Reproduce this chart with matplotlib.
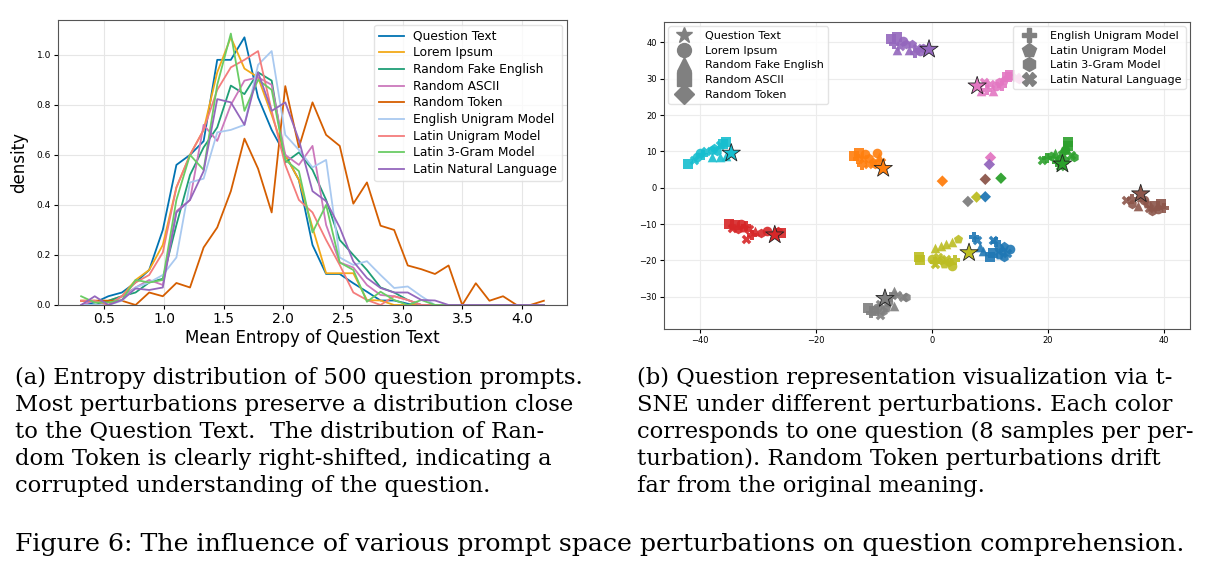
import matplotlib.pyplot as plt
from matplotlib.lines import Line2D

# ---- (a) entropy histograms: shared bin centres ----
bin_centers = [0.306, 0.420, 0.534, 0.648, 0.762, 0.876, 0.990, 1.104, 1.218, 1.332,
               1.446, 1.560, 1.674, 1.788, 1.902, 2.016, 2.130, 2.244, 2.358, 2.472,
               2.586, 2.700, 2.814, 2.928, 3.042, 3.156, 3.270, 3.384, 3.498, 3.612,
               3.726, 3.840, 3.954, 4.068, 4.182]

question_text = [0.0, 0.01, 0.035, 0.05, 0.09, 0.14, 0.30, 0.56, 0.60, 0.655, 0.98, 0.98,
                 1.07, 0.83, 0.70, 0.60, 0.50, 0.24, 0.124, 0.124, 0.087, 0.053, 0.018,
                 0.018, 0.005, 0, 0, 0, 0, 0, 0, 0, 0, 0, 0]
lorem_ipsum = [0.017, 0.017, 0.017, 0.035, 0.10, 0.14, 0.24, 0.47, 0.60, 0.70, 0.93, 1.07,
               0.945, 0.91, 0.76, 0.60, 0.50, 0.31, 0.127, 0.127, 0.127, 0.02, 0.018, 0, 0,
               0, 0, 0, 0, 0, 0, 0, 0, 0, 0]
random_fake_english = [0.0, 0.0, 0.017, 0.035, 0.05, 0.09, 0.105, 0.32, 0.52, 0.63, 0.71,
                       0.877, 0.843, 0.93, 0.897, 0.57, 0.61, 0.54, 0.42, 0.26, 0.20, 0.14,
                       0.07, 0.05, 0.02, 0, 0, 0, 0, 0, 0, 0, 0, 0, 0]
random_ascii = [0.0, 0.017, 0.0, 0.035, 0.07, 0.10, 0.08, 0.375, 0.42, 0.72, 0.656, 0.80,
                0.897, 0.91, 0.88, 0.60, 0.56, 0.636, 0.32, 0.17, 0.15, 0.08, 0.04, 0.035,
                0.02, 0, 0, 0, 0, 0, 0, 0, 0, 0, 0]
random_token = [0.017, 0.017, 0.017, 0.017, 0.0, 0.05, 0.035, 0.088, 0.07, 0.23, 0.31,
                0.455, 0.665, 0.545, 0.37, 0.875, 0.63, 0.81, 0.68, 0.636, 0.405, 0.49,
                0.317, 0.30, 0.158, 0.143, 0.124, 0.158, 0.0, 0.087, 0.017, 0.035, 0.0,
                0.0, 0.017]
english_unigram = [0.0, 0.0, 0.0, 0.017, 0.07, 0.09, 0.12, 0.19, 0.49, 0.505, 0.69, 0.70,
                   0.72, 0.96, 1.015, 0.68, 0.62, 0.55, 0.58, 0.19, 0.16, 0.175, 0.12,
                   0.068, 0.074, 0.035, 0, 0, 0, 0, 0, 0, 0, 0, 0]
latin_unigram = [0.017, 0.017, 0.0, 0.035, 0.09, 0.12, 0.21, 0.47, 0.60, 0.70, 0.86, 0.95,
                 0.98, 1.015, 0.776, 0.56, 0.42, 0.37, 0.26, 0.16, 0.05, 0.02, 0.0, 0.035,
                 0.02, 0, 0, 0, 0, 0, 0, 0, 0, 0, 0]
latin_3gram = [0.035, 0.01, 0.01, 0.02, 0.10, 0.09, 0.10, 0.42, 0.60, 0.54, 0.88, 1.085,
               0.776, 0.90, 0.86, 0.58, 0.535, 0.29, 0.40, 0.17, 0.14, 0.013, 0.053, 0.02,
               0.0, 0.02, 0, 0, 0, 0, 0, 0, 0, 0, 0]
latin_natural = [0.0, 0.035, 0.0, 0.02, 0.066, 0.06, 0.07, 0.37, 0.42, 0.535, 0.823, 0.81,
                 0.72, 0.93, 0.776, 0.81, 0.66, 0.455, 0.415, 0.31, 0.174, 0.108, 0.068,
                 0.05, 0.05, 0.02, 0.018, 0, 0, 0, 0, 0, 0, 0, 0]

perturbations = ['Question Text', 'Lorem Ipsum', 'Random Fake English', 'Random ASCII',
                 'Random Token', 'English Unigram Model', 'Latin Unigram Model',
                 'Latin 3-Gram Model', 'Latin Natural Language']
line_colors = ['#0173b2', '#f2a918', '#1f9e76', '#cc78bc', '#d55e00', '#a9c9f0',
               '#f47c7c', '#6acc64', '#9467bd']

# ---- (b) t-SNE: one cluster per question, (x, y, marker) ----
q_blue = [(7.2, -13.5, 'P'), (7.8, -14.5, 'X'), (8.3, -16.3, '^'), (8.8, -17.5, '^'),
          (10.0, -19.0, 's'), (10.5, -18.0, 's'), (10.5, -14.5, 'X'), (11.0, -15.0, 'P'),
          (11.5, -16.5, 'o'), (12.0, -17.5, 'h'), (12.5, -16.0, 'p'), (13.0, -18.0, 'X'),
          (13.5, -17.0, 'o'), (12.5, -19.0, 'h'), (11.5, -18.5, 'p')]
q_orange = [(-13.5, 8.8, 's'), (-12.5, 9.5, 's'), (-11.5, 9.2, 'o'), (-12.8, 8.0, 'P'),
            (-11.8, 7.8, 'X'), (-10.8, 8.2, 'h'), (-10.2, 7.2, 'p'), (-11.0, 6.5, 'X'),
            (-12.0, 6.2, 'P'), (-9.5, 9.5, 'o'), (-9.2, 8.5, '^'), (-8.8, 7.0, 'X'),
            (-9.8, 6.5, 'h')]
q_green = [(19.0, 7.5, 'X'), (19.8, 8.2, 'P'), (20.5, 8.8, 'h'), (21.2, 9.5, '^'),
           (22.0, 8.0, 'o'), (22.5, 9.5, 'p'), (23.0, 10.5, 'o'), (23.5, 11.5, 's'),
           (23.5, 12.5, 's'), (22.8, 11.0, '^'), (24.0, 9.0, 'X'), (24.5, 8.5, 'h'),
           (21.5, 7.0, 'P'), (22.0, 6.0, 'X'), (23.0, 7.5, 'p')]
q_red = [(-35.0, -10.0, 's'), (-34.0, -10.2, 's'), (-33.0, -10.0, 'o'), (-32.0, -10.5, 'P'),
         (-34.5, -11.0, 'X'), (-33.5, -11.5, 'h'), (-32.5, -11.2, 'p'), (-31.5, -11.5, 'X'),
         (-30.5, -12.0, '^'), (-31.0, -13.0, 'P'), (-32.0, -14.0, 'X'), (-29.5, -12.5, 'h'),
         (-28.5, -12.0, 'o'), (-26.0, -12.5, 's'), (-26.5, -12.0, 'p')]
q_purple = [(-7.0, 41.0, 's'), (-6.0, 41.5, 's'), (-5.0, 40.5, 'o'), (-6.5, 39.5, 'P'),
            (-5.5, 39.0, 'X'), (-4.5, 39.5, 'h'), (-3.5, 39.5, 'p'), (-2.5, 38.5, 'X'),
            (-4.0, 38.0, '^'), (-6.0, 38.0, '^'), (-2.0, 37.5, 'o'), (-1.5, 38.5, 'h'),
            (-3.0, 37.0, 'P')]
q_brown = [(33.5, -3.5, 'X'), (34.5, -3.0, 'P'), (34.5, -4.5, 'h'), (35.5, -5.0, '^'),
           (36.5, -3.5, 'o'), (37.0, -4.5, 'p'), (37.5, -5.5, 'X'), (38.0, -6.5, 'h'),
           (38.5, -5.0, 's'), (39.5, -4.5, 's'), (40.0, -5.5, 'P'), (39.0, -6.0, 'o'),
           (36.0, -2.5, '^')]
q_pink = [(8.5, 26.5, '^'), (9.5, 27.0, 'P'), (10.0, 28.5, 'X'), (11.0, 28.0, 'o'),
          (11.5, 29.0, 'h'), (12.5, 29.5, 'p'), (13.0, 30.5, 's'), (13.5, 31.0, 's'),
          (14.5, 30.5, 'X'), (15.0, 29.8, 'h'), (12.0, 28.0, 'P'), (10.5, 26.5, '^'),
          (9.0, 29.0, 'X')]
q_gray = [(-11.0, -33.0, 's'), (-10.0, -34.0, 's'), (-9.5, -33.0, 'o'), (-10.5, -34.5, 'P'),
          (-9.0, -35.0, 'X'), (-8.5, -34.0, 'h'), (-8.0, -33.0, 'p'), (-9.0, -32.0, 'X'),
          (-7.5, -31.5, 'o'), (-7.0, -30.0, 'P'), (-6.5, -28.5, '^'), (-6.0, -29.5, 'X'),
          (-5.0, -30.0, 'X'), (-4.5, -30.0, 'h'), (-6.5, -32.5, '^')]
q_olive = [(-2.2, -19.0, 's'), (-2.0, -20.0, 's'), (0.0, -19.5, 'o'), (0.5, -20.5, 'P'),
           (1.0, -19.0, 'X'), (1.5, -20.0, 'h'), (2.0, -21.0, 'p'), (2.5, -19.5, 'X'),
           (3.0, -20.5, 'h'), (3.5, -21.5, 'o'), (4.0, -20.0, 'P'), (0.5, -16.5, '^'),
           (1.5, -16.0, '^'), (2.5, -15.5, '^'), (3.5, -15.0, '^'), (4.5, -14.0, 'p'),
           (0.5, -21.0, 'X')]
q_cyan = [(-42.0, 6.5, 's'), (-41.0, 7.5, 'X'), (-40.5, 8.5, 'o'), (-39.5, 9.0, 'P'),
          (-39.0, 10.0, 'X'), (-38.0, 10.5, 'h'), (-37.5, 11.0, 'p'), (-36.5, 11.8, 'X'),
          (-35.5, 12.5, 's'), (-36.0, 12.0, 's'), (-38.0, 8.5, '^'), (-36.5, 8.5, '^'),
          (-35.5, 8.8, '^'), (-40.0, 9.5, 'o'), (-37.0, 10.0, 'h')]
clusters = [q_blue, q_orange, q_green, q_red, q_purple, q_brown, q_pink, q_gray, q_olive, q_cyan]
question_colors = ['tab:blue', 'tab:orange', 'tab:green', 'tab:red', 'tab:purple',
                   'tab:brown', 'tab:pink', 'tab:gray', 'tab:olive', 'tab:cyan']

# Question Text (stars), index into question_colors
star_idx = [1, 2, 3, 4, 5, 6, 7, 8, 9]
star_x = [-8.4, 22.5, -27.1, -0.5, 36.0, 7.8, -8.1, 6.4, -34.6]
star_y = [5.3, 6.5, -13.0, 38.1, -1.7, 28.0, -30.5, -17.9, 9.5]

# Random Token (diamonds)
token_idx = [6, 4, 1, 5, 2, 8, 0, 7]
token_x = [10.1, 9.9, 1.8, 9.2, 11.9, 7.7, 9.2, 6.2]
token_y = [8.3, 6.4, 1.8, 2.3, 2.6, -2.6, -2.5, -3.8]

W, H = 1219, 578
fig = plt.figure(figsize=(W / 100, H / 100), dpi=100)

# ---------------- (a) ----------------
ax1 = fig.add_axes([58 / W, 1 - 305 / H, 509 / W, 285 / H])
series = [question_text, lorem_ipsum, random_fake_english, random_ascii, random_token,
          english_unigram, latin_unigram, latin_3gram, latin_natural]
for name, vals, col in zip(perturbations, series, line_colors):
    ax1.plot(bin_centers, vals, color=col, lw=1.3, label=name)
ax1.set_ylim(bottom=0)
ax1.grid(True, color='#e6e6e6', lw=0.8)
ax1.set_axisbelow(True)
ax1.set_xlabel('Mean Entropy of Question Text', fontsize=12, labelpad=2)
ax1.set_ylabel('density', fontsize=12, labelpad=6)
ax1.tick_params(axis='x', labelsize=10, length=3, pad=2)
ax1.tick_params(axis='y', labelsize=6.5, length=3, pad=2)
for sp in ax1.spines.values():
    sp.set_color('#555555')
ax1.legend(loc='upper right', fontsize=8.8, frameon=True, handlelength=2.0,
           labelspacing=0.3, borderaxespad=0.4, framealpha=0.8, edgecolor='#dddddd')

# ---------------- (b) ----------------
ax2 = fig.add_axes([664 / W, 1 - 329 / H, 526 / W, 307 / H])
for pts, col in zip(clusters, question_colors):
    for m in ['s', 'o', '^', 'P', 'p', 'h', 'X']:
        xs = [p[0] for p in pts if p[2] == m]
        ys = [p[1] for p in pts if p[2] == m]
        if xs:
            ax2.scatter(xs, ys, marker=m, s=48, color=col, alpha=0.9, linewidths=0)
ax2.scatter(token_x, token_y, marker='D', s=34, c=[question_colors[i] for i in token_idx],
            linewidths=0, alpha=0.95)
ax2.scatter(star_x, star_y, marker='*', s=190, c=[question_colors[i] for i in star_idx],
            edgecolors='#222222', linewidths=0.6, zorder=3)
ax2.set_xlim(-46.2, 44.5)
ax2.set_ylim(-38.9, 45.6)
ax2.set_xticks([-40, -20, 0, 20, 40])
ax2.set_yticks([-30, -20, -10, 0, 10, 20, 30, 40])
ax2.tick_params(labelsize=6, length=3, pad=2)
ax2.grid(True, color='#ececec', lw=0.8)
ax2.set_axisbelow(True)
for sp in ax2.spines.values():
    sp.set_color('#555555')

gray = '#808080'
left_handles = [Line2D([], [], ls='', marker=m, color=gray, markersize=ms)
                for m, ms in [('*', 12), ('o', 10), ('^', 10), ('s', 10), ('D', 10)]]
leg1 = ax2.legend(left_handles, perturbations[:5], loc='upper left', fontsize=8,
                  labelspacing=0.42, handletextpad=0.9, borderaxespad=0.4,
                  framealpha=0.8, edgecolor='#dddddd')
ax2.add_artist(leg1)
right_handles = [Line2D([], [], ls='', marker=m, color=gray, markersize=ms)
                 for m, ms in [('P', 10), ('p', 10), ('h', 10), ('X', 10)]]
ax2.legend(right_handles, perturbations[5:], loc='upper right', fontsize=8,
           labelspacing=0.42, handletextpad=0.9, borderaxespad=0.4,
           framealpha=0.8, edgecolor='#dddddd')

# ---------------- captions ----------------
cap_a = ['(a) Entropy distribution of 500 question prompts.',
         'Most perturbations preserve a distribution close',
         'to the Question Text.  The distribution of Ran-',
         'dom Token is clearly right-shifted, indicating a',
         'corrupted understanding of the question.']
cap_b = ['(b) Question representation visualization via t-',
         'SNE under different perturbations. Each color',
         'corresponds to one question (8 samples per per-',
         'turbation). Random Token perturbations drift',
         'far from the original meaning.']
line_y = [378, 405, 432, 459, 486]
serif = ['DejaVu Serif']
for txt, y in zip(cap_a, line_y):
    fig.text(15 / W, 1 - y / H, txt, fontsize=16.3, family=serif, va='center', ha='left')
for txt, y in zip(cap_b, line_y):
    fig.text(637 / W, 1 - y / H, txt, fontsize=16.3, family=serif, va='center', ha='left')
fig.text(15 / W, 1 - 545 / H,
         'Figure 6: The influence of various prompt space perturbations on question comprehension.',
         fontsize=18.2, family=serif, va='center', ha='left')

fig.savefig('out.png', dpi=100)
